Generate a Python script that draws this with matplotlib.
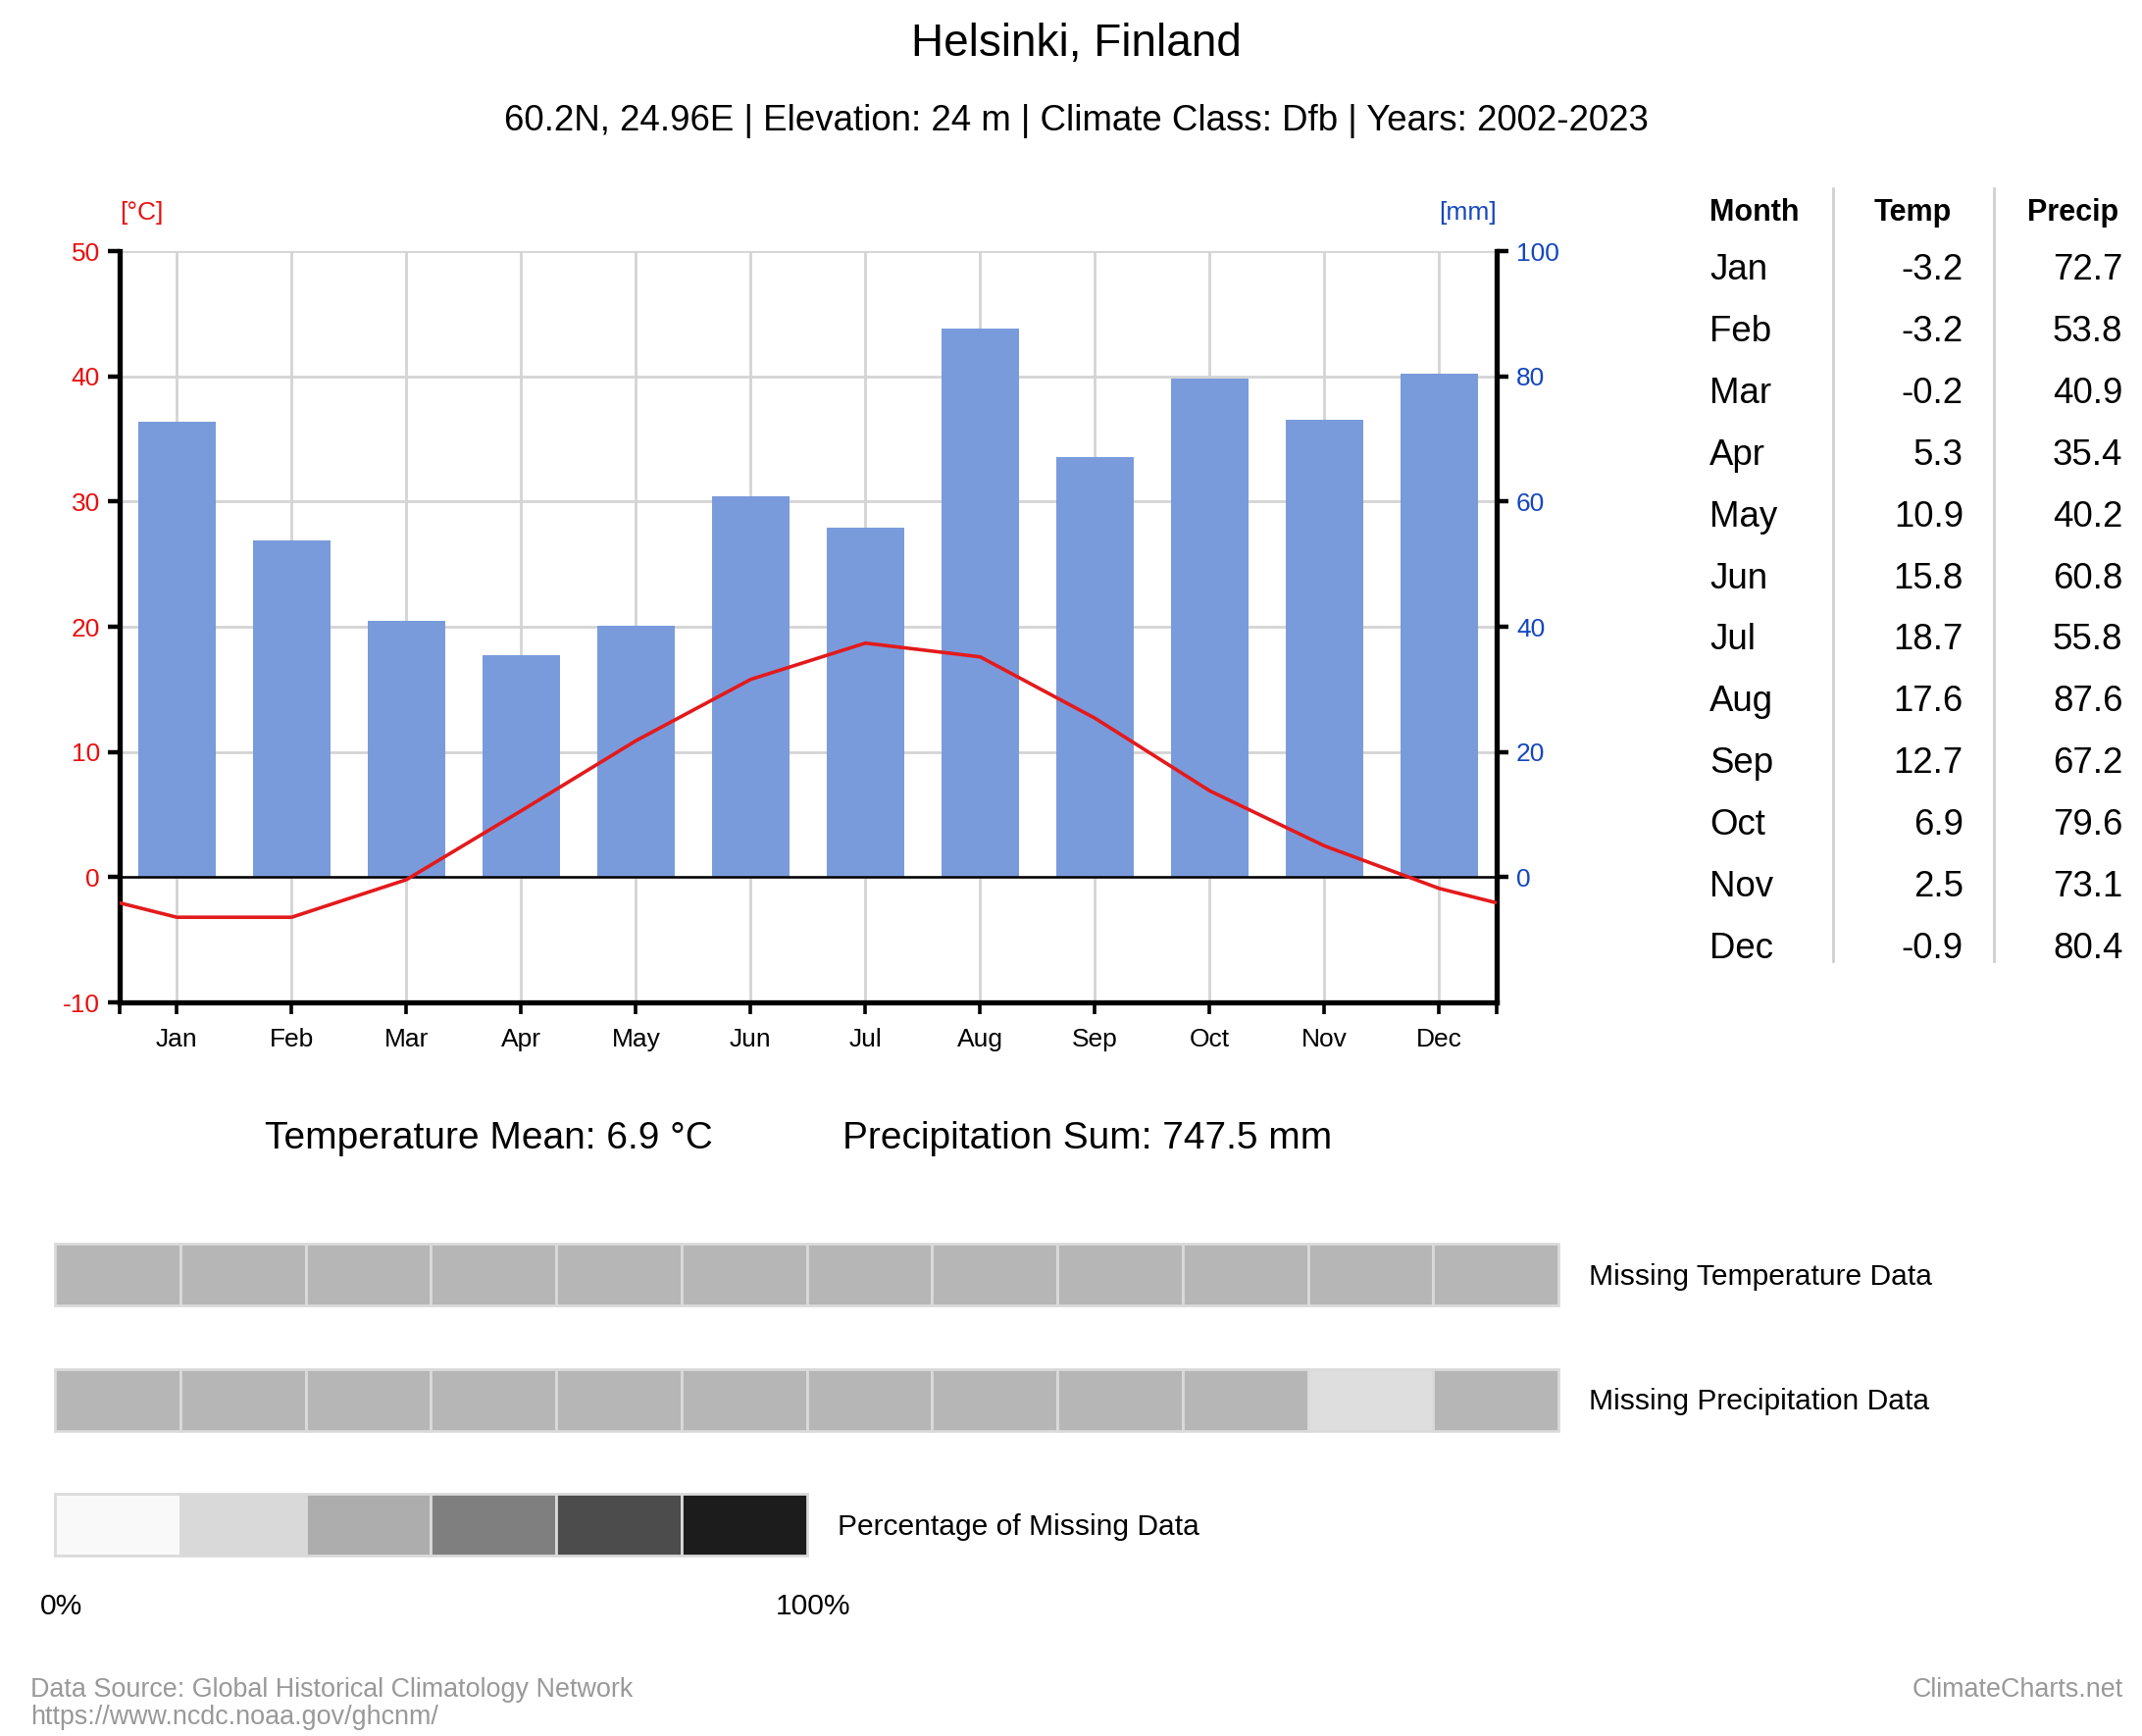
import matplotlib
matplotlib.use("Agg")
import matplotlib.pyplot as plt
from matplotlib.patches import Rectangle
from matplotlib.colors import LinearSegmentedColormap
import numpy as np

plt.rcParams['font.family'] = ['Liberation Sans', 'DejaVu Sans']
plt.rcParams['axes.unicode_minus'] = False

# ---------------- data ----------------
months = ["Jan", "Feb", "Mar", "Apr", "May", "Jun", "Jul", "Aug", "Sep", "Oct", "Nov", "Dec"]
temp = [-3.2, -3.2, -0.2, 5.3, 10.9, 15.8, 18.7, 17.6, 12.7, 6.9, 2.5, -0.9]
precip = [72.7, 53.8, 40.9, 35.4, 40.2, 60.8, 55.8, 87.6, 67.2, 79.6, 73.1, 80.4]
temp_ticks = [-10, 0, 10, 20, 30, 40, 50]
precip_ticks = [0, 20, 40, 60, 80, 100]
missing_temp_pct = [36, 36, 36, 36, 36, 36, 36, 36, 36, 36, 36, 36]
missing_prec_pct = [36, 36, 36, 36, 36, 36, 36, 36, 36, 36, 17, 36]
legend_pct = [0, 20, 40, 60, 80, 100]
legend_colors = ["#f9f9f9", "#d9d9d9", "#adadad", "#7f7f7f", "#4c4c4c", "#1c1c1c"]
title = "Helsinki, Finland"
subtitle = "60.2N, 24.96E | Elevation: 24 m | Climate Class: Dfb | Years: 2002-2023"
temp_mean_txt = "Temperature Mean: 6.9 °C"
precip_sum_txt = "Precipitation Sum: 747.5 mm"

# ---------------- styles ----------------
RED = "#e8100f"
BLUE = "#1446c0"
BAR = "#7a9bdb"
LINE = "#e31a1c"
GRID = "#d4d4d4"

W, H = 1560.0, 1770 / 1.4
fig = plt.figure(figsize=(10.92, 8.85), dpi=200)

def fx(x):
    return x / W

def fy(y):
    return 1 - y / H

# main axes (precip base, behind)
L, R, T, B = 87, 1090, 183, 730
ax = fig.add_axes([fx(L), fy(B), fx(R) - fx(L), fy(T) - fy(B)])
x = np.arange(len(months))
ax.bar(x, precip, width=0.67, color=BAR, zorder=2)
ax.set_xlim(-0.5, 11.5)
ax.set_ylim(-20, 100)
ax.set_xticks(x)
ax.set_xticklabels(months)
ax.set_xticks([-0.5, 11.5], minor=True)
ax.grid(True, color=GRID, lw=1.0, zorder=0)
ax.set_axisbelow(True)

# temperature axes (front)
ax2 = ax.twinx()
ax.yaxis.tick_right()
ax.set_yticks(precip_ticks)
ax2.yaxis.tick_left()
ax2.set_ylim(-10, 50)
ax2.set_yticks(temp_ticks)

for s in ["top", "left"]:
    ax.spines[s].set_visible(False)
for s in ["bottom", "right"]:
    ax.spines[s].set_linewidth(1.9)
ax.tick_params(axis='y', colors='black', labelcolor=BLUE, labelsize=9.5,
               length=4.2, width=1.6, pad=3)
ax.tick_params(axis='x', which='both', colors='black', labelsize=9.5,
               length=4.2, width=1.3, pad=5)
for s in ["top", "right", "bottom"]:
    ax2.spines[s].set_visible(False)
ax2.spines["left"].set_linewidth(1.9)
ax2.tick_params(axis='y', colors='black', labelcolor=RED, labelsize=9.5,
                length=4.2, width=1.6, pad=3)
ax2.axhline(0, color='black', lw=0.9, zorder=3)
edge_val = (temp[0] + temp[-1]) / 2
tx = np.concatenate([[-0.5], x, [11.5]])
ty = np.concatenate([[edge_val], temp, [edge_val]])
ax2.plot(tx, ty, color=LINE, lw=1.3, zorder=4, solid_capstyle='butt')

# overlay for texts and boxes
ov = fig.add_axes([0, 0, 1, 1], zorder=-1)
ov.set_xlim(0, W)
ov.set_ylim(H, 0)
ov.axis('off')

ov.text(W / 2 + 4, 32, title, ha='center', va='center', fontsize=16.5)
ov.text(W / 2 + 4, 88, subtitle, ha='center', va='center', fontsize=13.2)
ov.text(L, 155, "[°C]", ha='left', va='center', fontsize=9.5, color=RED)
ov.text(R, 155, "[mm]", ha='right', va='center', fontsize=9.5, color=BLUE)

# table
ov.text(1245, 155, "Month", ha='left', va='center', fontsize=11, fontweight='bold')
ov.text(1421, 155, "Temp", ha='right', va='center', fontsize=11, fontweight='bold')
ov.text(1543, 155, "Precip", ha='right', va='center', fontsize=11, fontweight='bold')
for i, m in enumerate(months):
    yy = 197 + i * 44.9
    ov.text(1245, yy, m, ha='left', va='center', fontsize=13.2)
    ov.text(1430, yy, f"{temp[i]:.1f}", ha='right', va='center', fontsize=13.2)
    ov.text(1546, yy, f"{precip[i]:.1f}", ha='right', va='center', fontsize=13.2)
for xx in (1335, 1452):
    ov.plot([xx, xx], [137, 700], color='#cfcfcf', lw=1.0)

ov.text(356, 829, temp_mean_txt, ha='center', va='center', fontsize=14)
ov.text(792, 829, precip_sum_txt, ha='center', va='center', fontsize=14)

# missing data boxes
cmap = LinearSegmentedColormap.from_list(
    "miss", [(p / 100, c) for p, c in zip(legend_pct, legend_colors)])
cw = (1135 - 40) / 12.0

def cells(vals, y0, colors=None):
    for i, v in enumerate(vals):
        c = colors[i] if colors is not None else cmap(v / 100)
        ov.add_patch(Rectangle((40 + i * cw, y0), cw, 45, facecolor=c,
                               edgecolor='#dadada', lw=1.0))

cells(missing_temp_pct, 906)
cells(missing_prec_pct, 997)
cells(legend_pct, 1088, legend_colors)
ov.text(1157, 930, "Missing Temperature Data", ha='left', va='center', fontsize=10.8)
ov.text(1157, 1021, "Missing Precipitation Data", ha='left', va='center', fontsize=10.8)
ov.text(610, 1112, "Percentage of Missing Data", ha='left', va='center', fontsize=10.8)
ov.text(45, 1170, "0%", ha='center', va='center', fontsize=10.8)
ov.text(592, 1170, "100%", ha='center', va='center', fontsize=10.8)

# footer
ov.text(22, 1231, "Data Source: Global Historical Climatology Network", ha='left',
        va='center', fontsize=9.7, color='#999999')
ov.text(22, 1251, "https://www.ncdc.noaa.gov/ghcnm/", ha='left',
        va='center', fontsize=9.7, color='#999999')
ov.text(1546, 1231, "ClimateCharts.net", ha='right', va='center',
        fontsize=9.7, color='#999999')

fig.savefig("out.png", dpi=200, facecolor='white')
